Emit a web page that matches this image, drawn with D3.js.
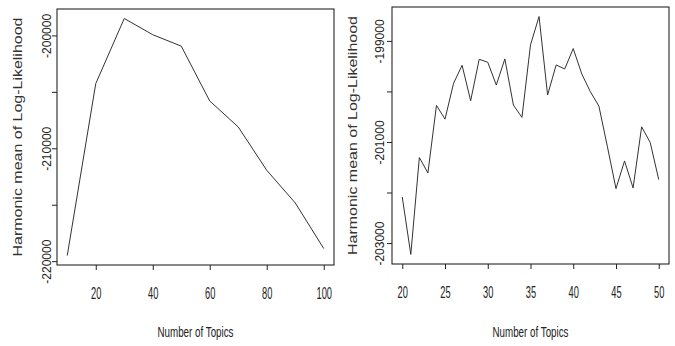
<!DOCTYPE html>
<html>
<head>
<meta charset="utf-8">
<script src="https://cdn.jsdelivr.net/npm/d3@7"></script>
<style>
  body { margin: 0; background: #fff; }
  svg { display: block; }
</style>
</head>
<body>
<svg id="chart" width="675" height="346"></svg>
<script>
// data
var leftTopics = [10, 20, 30, 40, 50, 60, 70, 80, 90, 100];
var leftLL = [-219500, -204270, -198500, -199940, -200950, -205810, -208110, -211950, -214840, -218880];
var leftXTicks = [20, 40, 60, 80, 100];
var leftYTicks = [-220000, -215000, -210000, -205000, -200000];
var leftYLabels = ["-220000", "", "-210000", "", "-200000"];

var rightTopics = [20, 21, 22, 23, 24, 25, 26, 27, 28, 29, 30, 31, 32, 33, 34, 35,
                   36, 37, 38, 39, 40, 41, 42, 43, 44, 45, 46, 47, 48, 49, 50];
var rightLL = [-202089, -203226, -201308, -201613, -200276, -200548, -199840, -199483,
               -200184, -199364, -199423, -199873, -199357, -200270, -200514, -199079,
               -198518, -200071, -199476, -199556, -199152, -199655, -200005, -200290,
               -201097, -201923, -201375, -201910, -200700, -201010, -201744];
var rightXTicks = [20, 25, 30, 35, 40, 45, 50];
var rightYTicks = [-203000, -202000, -201000, -200000, -199000];
var rightYLabels = ["-203000", "", "-201000", "", "-199000"];

var xTitle = "Number of Topics";
var yTitle = "Harmonic mean of Log-Likelihood";

var svg = d3.select("#chart");

// R style 4% padding on both axes
function padded(ext) {
  var d = (ext[1] - ext[0]) * 0.04;
  return [ext[0] - d, ext[1] + d];
}

function panel(opt) {
  var g = svg.append("g").attr("transform", "translate(" + opt.left + "," + opt.top + ")");
  var w = opt.width, h = opt.height;

  var x = d3.scaleLinear().domain(padded(d3.extent(opt.xs))).range([0, w]);
  var y = d3.scaleLinear().domain(padded(d3.extent(opt.ys))).range([h, 0]);

  // box
  g.append("rect")
    .attr("x", 0).attr("y", 0).attr("width", w).attr("height", h)
    .attr("fill", "none").attr("stroke", "#111").attr("stroke-width", 1);

  // x axis
  var xa = g.append("g").attr("transform", "translate(0," + h + ")")
    .call(d3.axisBottom(x).tickValues(opt.xTicks).tickSize(5).tickFormat(d3.format("d")));
  xa.select(".domain").remove();
  xa.selectAll("line").attr("stroke", "#222");
  xa.selectAll("text")
    .attr("y", 0).attr("dy", 0)
    .attr("transform", "translate(0,34) scale(0.58,1)")
    .attr("font-family", "Liberation Sans, Arial, sans-serif")
    .attr("font-size", 16).attr("fill", "#222");

  // y axis
  var ya = g.append("g")
    .call(d3.axisLeft(y).tickValues(opt.yTicks).tickSize(5)
      .tickFormat(function(d, i) { return opt.yLabels[i]; }));
  ya.select(".domain").remove();
  ya.selectAll("line").attr("stroke", "#222");
  ya.selectAll("text")
    .attr("x", 0).attr("y", -opt.yLabGap).attr("dy", 0)
    .attr("transform", "rotate(-90)")
    .attr("text-anchor", "middle")
    .attr("font-family", "Liberation Sans, Arial, sans-serif")
    .attr("font-size", 12).attr("fill", "#222");

  // line
  var line = d3.line()
    .x(function(d, i) { return x(opt.xs[i]); })
    .y(function(d) { return y(d); });
  g.append("path")
    .datum(opt.ys)
    .attr("d", line)
    .attr("fill", "none")
    .attr("stroke", "#333")
    .attr("stroke-width", 1);

  // titles
  g.append("text")
    .attr("transform", "translate(" + (w / 2) + "," + (opt.xTitleY - opt.top) + ") scale(0.7,1)")
    .attr("text-anchor", "middle")
    .attr("font-family", "Liberation Sans, Arial, sans-serif")
    .attr("font-size", 14).attr("fill", "#222")
    .text(xTitle);

  g.append("text")
    .attr("transform", "translate(" + (opt.yTitleX - opt.left) + "," + (h / 2) + ") scale(0.78,1) rotate(-90)")
    .attr("text-anchor", "middle")
    .attr("font-family", "Liberation Sans, Arial, sans-serif")
    .attr("font-size", 16).attr("fill", "#333")
    .text(yTitle);
}

panel({
  left: 57, top: 9, width: 277, height: 256,
  xs: leftTopics, ys: leftLL,
  xTicks: leftXTicks, yTicks: leftYTicks, yLabels: leftYLabels,
  yLabGap: 6, xTitleY: 337, yTitleX: 22
});

panel({
  left: 392, top: 7, width: 277, height: 257,
  xs: rightTopics, ys: rightLL,
  xTicks: rightXTicks, yTicks: rightYTicks, yLabels: rightYLabels,
  yLabGap: 8, xTitleY: 337, yTitleX: 357
});
</script>
</body>
</html>
